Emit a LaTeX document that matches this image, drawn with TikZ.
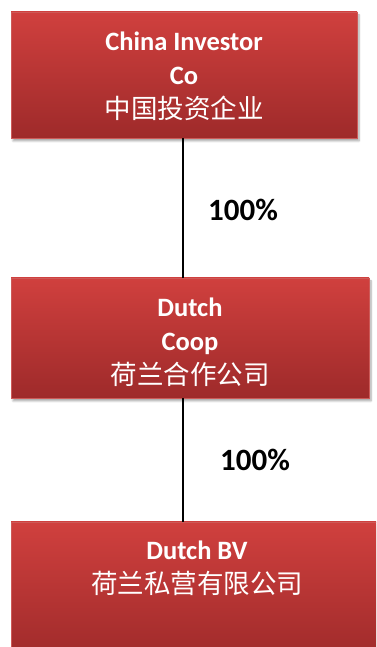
\documentclass[tikz,border=0pt]{standalone}
\usepackage{fontspec}
\setmainfont{Carlito}
\newfontfamily\cjk{Noto Sans CJK SC}
\usetikzlibrary{shadows.blur}
\definecolor{boxtop}{RGB}{208,64,62}
\definecolor{boxbot}{RGB}{158,42,42}
\definecolor{boxedge}{RGB}{205,90,88}
\newcommand{\zh}[1]{{\cjk\mdseries\fontsize{26.5}{34}\selectfont #1}}
\begin{document}
\begin{tikzpicture}[x=1pt,y=1pt,
  entity/.style={rectangle, draw=boxedge, line width=0.6pt, top color=boxtop, bottom color=boxbot,
    blur shadow={shadow xshift=2pt, shadow yshift=-3pt, shadow opacity=35, shadow blur steps=6},
    inner sep=0pt},
  lbl/.style={anchor=north, align=center, text=white, font=\fontsize{26.5}{34}\selectfont\bfseries, inner sep=0pt},
  pct/.style={font=\fontsize{31}{34}\selectfont\bfseries, text=black, inner sep=0pt},
  link/.style={draw=black, line width=1.4pt}]
\useasboundingbox (0,0) rectangle (376,647);
\clip (0,0) rectangle (376,647);
% boxes (y = 647 - image y)
\node[entity, minimum width=346, minimum height=126] (top) at (184,572) {};
\node[entity, minimum width=358, minimum height=120] (mid) at (190,309) {};
\node[entity, minimum width=372, minimum height=140] (bot) at (197,55) {};
% labels
\node[lbl] (toplbl) at ([yshift=-20]top.north) {China Investor\\Co\\\zh{中国投资企业}};
\node[lbl] (midlbl) at ([yshift=-20]mid.north) {Dutch\\Coop\\\zh{荷兰合作公司}};
\node[lbl] (botlbl) at ([yshift=-19]bot.north) {Dutch BV\\\zh{荷兰私营有限公司}};
% connectors
\draw[link] (top.south -| 183,0) -- (mid.north -| 183,0);
\draw[link] (mid.south -| 183,0) -- (bot.north -| 183,0);
% percentages
\node[pct] (p1) at (243,437) {100\%};
\node[pct] (p2) at (255,187) {100\%};
\end{tikzpicture}
\end{document}
